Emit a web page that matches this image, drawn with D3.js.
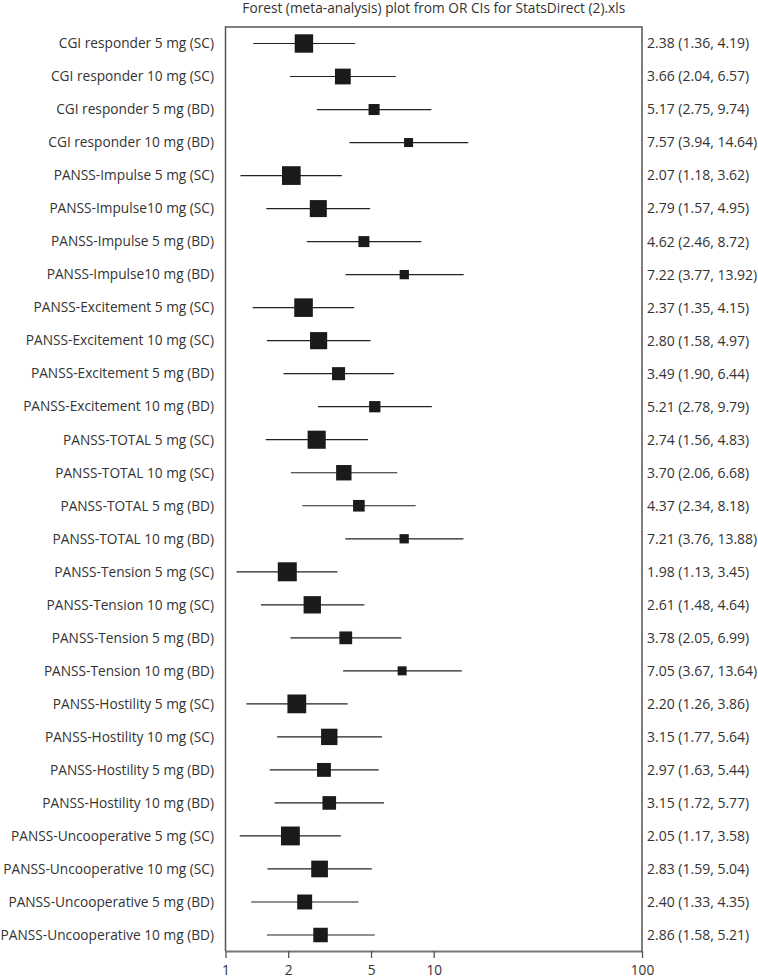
<!DOCTYPE html>
<html>
<head>
<meta charset="utf-8">
<script src="https://cdn.jsdelivr.net/npm/d3@7"></script>
<style>
    body { margin: 0; background: #fff; }
    text { font-family: "Open Sans", sans-serif; fill: #333; }
</style>
</head>
<body>
<svg id="chart" width="758" height="977"></svg>
<script>
const title = "Forest (meta-analysis) plot from OR CIs for StatsDirect (2).xls"

const labels = [
    "CGI responder 5 mg (SC)", "CGI responder 10 mg (SC)", "CGI responder 5 mg (BD)", "CGI responder 10 mg (BD)",
    "PANSS-Impulse 5 mg (SC)", "PANSS-Impulse10 mg (SC)", "PANSS-Impulse 5 mg (BD)", "PANSS-Impulse10 mg (BD)",
    "PANSS-Excitement 5 mg (SC)", "PANSS-Excitement 10 mg (SC)", "PANSS-Excitement 5 mg (BD)", "PANSS-Excitement 10 mg (BD)",
    "PANSS-TOTAL 5 mg (SC)", "PANSS-TOTAL 10 mg (SC)", "PANSS-TOTAL 5 mg (BD)", "PANSS-TOTAL 10 mg (BD)",
    "PANSS-Tension 5 mg (SC)", "PANSS-Tension 10 mg (SC)", "PANSS-Tension 5 mg (BD)", "PANSS-Tension 10 mg (BD)",
    "PANSS-Hostility 5 mg (SC)", "PANSS-Hostility 10 mg (SC)", "PANSS-Hostility 5 mg (BD)", "PANSS-Hostility 10 mg (BD)",
    "PANSS-Uncooperative 5 mg (SC)", "PANSS-Uncooperative 10 mg (SC)", "PANSS-Uncooperative 5 mg (BD)", "PANSS-Uncooperative 10 mg (BD)"
]
const oddsRatios = [
    2.38, 3.66, 5.17, 7.57,
    2.07, 2.79, 4.62, 7.22,
    2.37, 2.80, 3.49, 5.21,
    2.74, 3.70, 4.37, 7.21,
    1.98, 2.61, 3.78, 7.05,
    2.20, 3.15, 2.97, 3.15,
    2.05, 2.83, 2.40, 2.86
]
const lowerCI = [
    1.36, 2.04, 2.75, 3.94,
    1.18, 1.57, 2.46, 3.77,
    1.35, 1.58, 1.90, 2.78,
    1.56, 2.06, 2.34, 3.76,
    1.13, 1.48, 2.05, 3.67,
    1.26, 1.77, 1.63, 1.72,
    1.17, 1.59, 1.33, 1.58
]
const upperCI = [
    4.19, 6.57, 9.74, 14.64,
    3.62, 4.95, 8.72, 13.92,
    4.15, 4.97, 6.44, 9.79,
    4.83, 6.68, 8.18, 13.88,
    3.45, 4.64, 6.99, 13.64,
    3.86, 5.64, 5.44, 5.77,
    3.58, 5.04, 4.35, 5.21
]
const tickValues = [1, 2, 5, 10, 100]

// inverse-variance weight from the CI width, used for the square size
let rows = labels.map((label, i) => {
    let se = (Math.log(upperCI[i]) - Math.log(lowerCI[i])) / (2 * 1.96)
    return {
        i: i,
        label: label,
        or: oddsRatios[i],
        lo: lowerCI[i],
        hi: upperCI[i],
        weight: 1 / (se * se)
    }
})

const svg = d3.select("#chart")
const plotTop = 27, plotBottom = 951

const x = d3.scaleLog()
    .domain([1, 100])
    .range([225.5, 642])

const y = d3.scalePoint()
    .domain(d3.range(labels.length))
    .range([43.5, 935])

const size = d3.scaleLinear()
    .domain(d3.extent(rows, (d) => d.weight))
    .range([9, 19])

svg.append("text")
    .attr("x", (x(1) + x(100)) / 2)
    .attr("y", 13)
    .attr("text-anchor", "middle")
    .style("font-size", "13.7px")
    .text(title)

// frame (left, top, right); the axis draws the bottom
svg.append("path")
    .attr("d", "M" + x(1) + "," + plotBottom + "V" + plotTop + "H" + x(100) + "V" + plotBottom)
    .attr("fill", "none")
    .attr("stroke", "#555")
    .attr("stroke-width", 1.5)

const axis = svg.append("g")
    .attr("transform", "translate(0," + plotBottom + ")")
    .call(d3.axisBottom(x)
        .tickValues(tickValues)
        .tickFormat(d3.format("d"))
        .tickSize(7)
        .tickSizeOuter(0)
        .tickPadding(7))
axis.select(".domain").attr("stroke", "#777").attr("stroke-width", 2)
axis.selectAll(".tick line").attr("stroke", "#555").attr("stroke-width", 1.3)
axis.selectAll(".tick text")
    .style("font-size", "13.7px")
    .style("font-family", "'Open Sans', sans-serif")
    .attr("fill", "#333")

let rowGroups = svg.selectAll(".row")
    .data(rows)
    .enter()
    .append("g")
    .attr("class", "row")

rowGroups.append("text")
    .attr("x", 214)
    .attr("y", (d) => y(d.i))
    .attr("dy", "0.35em")
    .attr("text-anchor", "end")
    .style("font-size", "13.7px")
    .text((d) => d.label)

rowGroups.append("line")
    .attr("x1", (d) => x(d.lo))
    .attr("x2", (d) => x(d.hi))
    .attr("y1", (d) => y(d.i))
    .attr("y2", (d) => y(d.i))
    .attr("stroke", "#222")
    .attr("stroke-width", 1.2)

rowGroups.append("rect")
    .attr("x", (d) => x(d.or) - size(d.weight) / 2)
    .attr("y", (d) => y(d.i) - size(d.weight) / 2)
    .attr("width", (d) => size(d.weight))
    .attr("height", (d) => size(d.weight))
    .attr("fill", "#1a1a1a")

rowGroups.append("text")
    .attr("x", 647)
    .attr("y", (d) => y(d.i))
    .attr("dy", "0.35em")
    .style("font-size", "14px")
    .text((d) => d.or.toFixed(2) + " (" + d.lo.toFixed(2) + ", " + d.hi.toFixed(2) + ")")
</script>
</body>
</html>
